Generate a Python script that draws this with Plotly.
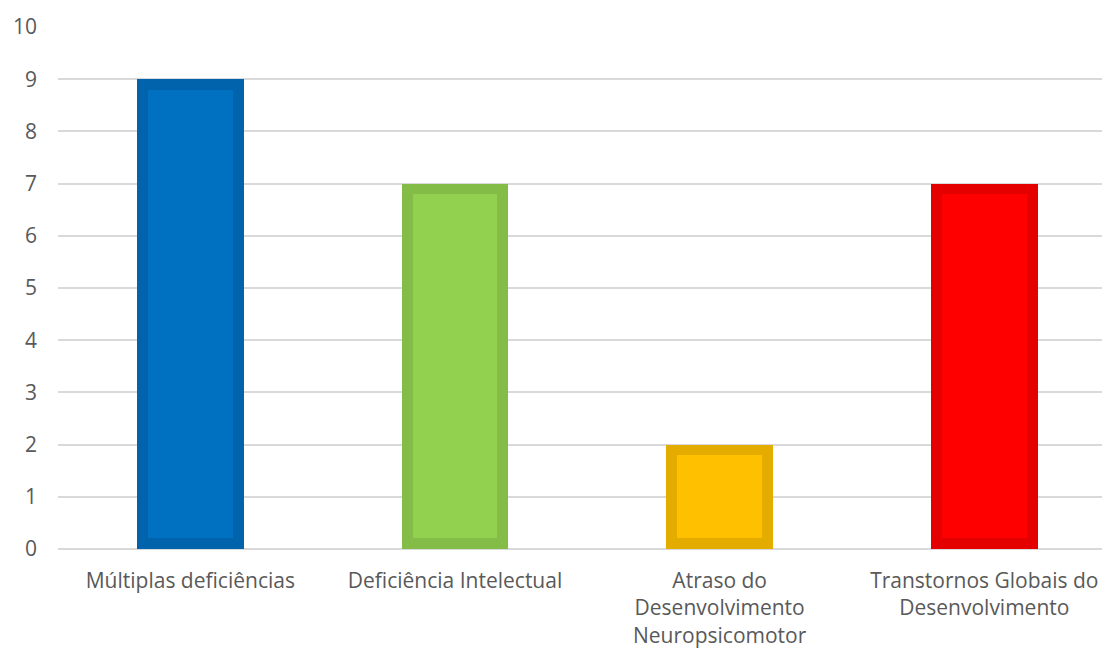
import plotly.graph_objects as go

categories = [
    "Múltiplas deficiências",
    "Deficiência Intelectual",
    "Atraso do<br>Desenvolvimento<br>Neuropsicomotor",
    "Transtornos Globais do<br>Desenvolvimento",
]
values = [9, 7, 2, 7]
fill_colors = ["#0070C0", "#92D050", "#FFC000", "#FF0000"]
border_colors = ["#0063AC", "#84BC48", "#E5AC00", "#E50000"]
y_ticks = [0, 1, 2, 3, 4, 5, 6, 7, 8, 9, 10]

# styling: bar width (category units) and inner-border thickness (value units / category units)
BAR_W = 0.404
BORDER_Y = 0.205
BORDER_X = 0.0415

xs = list(range(len(categories)))

fig = go.Figure()
# outer (border) bars
fig.add_trace(
    go.Bar(
        x=xs,
        y=values,
        width=BAR_W,
        marker=dict(color=border_colors, line=dict(width=0)),
        hoverinfo="skip",
    )
)
# inner fill bars (inset by the border thickness)
fig.add_trace(
    go.Bar(
        x=xs,
        y=[v - 2 * BORDER_Y for v in values],
        base=BORDER_Y,
        width=BAR_W - 2 * BORDER_X,
        marker=dict(color=fill_colors, line=dict(width=0)),
        hoverinfo="skip",
    )
)

font = dict(family="Open Sans", size=21, color="#595959")

fig.update_layout(
    width=1102,
    height=651,
    margin=dict(l=58, r=0, t=27, b=102),
    paper_bgcolor="white",
    plot_bgcolor="white",
    showlegend=False,
    font=font,
    barmode="overlay",
    bargap=0,
)
fig.update_xaxes(
    range=[-0.5, 3.4446],
    tickmode="array",
    tickvals=xs,
    ticktext=categories,
    tickfont=font,
    showgrid=False,
    showline=False,
    ticks="",
    ticklabelstandoff=17,
)
fig.update_yaxes(
    range=[0, 10],
    tickmode="array",
    tickvals=y_ticks,
    ticktext=[str(v) for v in y_ticks],
    tickfont=font,
    showgrid=True,
    gridcolor="#D9D9D9",
    gridwidth=1.5,
    zeroline=True,
    zerolinecolor="#D9D9D9",
    zerolinewidth=1.5,
    showline=False,
    ticks="",
    ticklabelstandoff=20,
)

fig.write_html("out.html")
